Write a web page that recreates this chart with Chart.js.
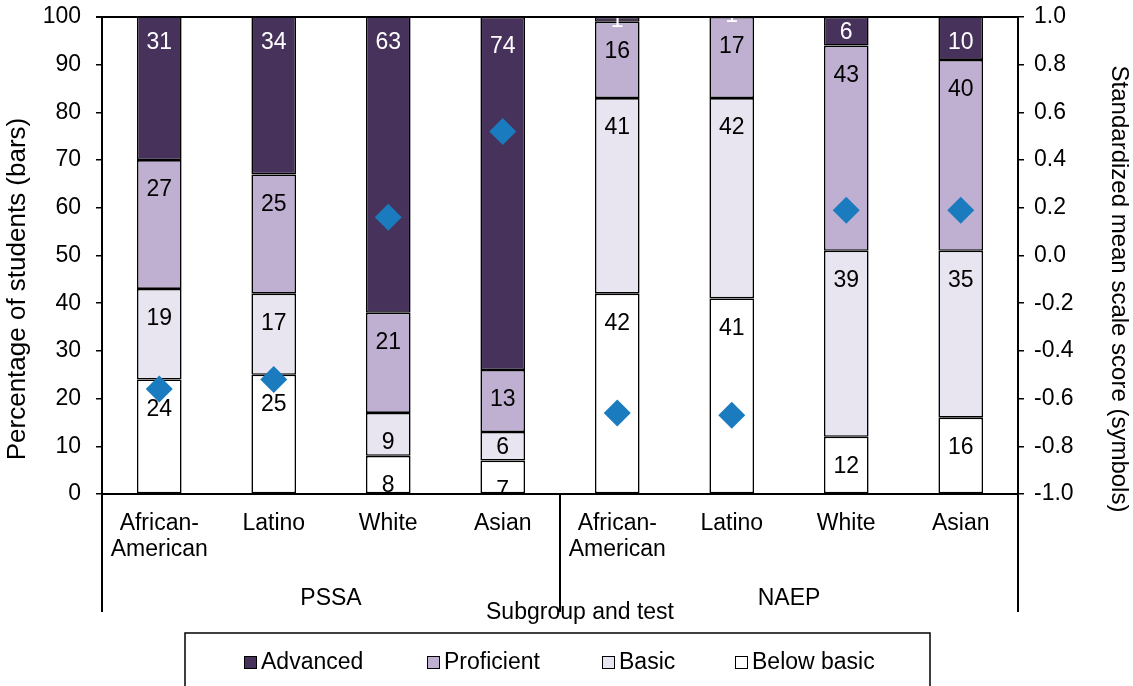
<!DOCTYPE html>
<html>
<head>
<meta charset="utf-8">
<script src="https://cdn.jsdelivr.net/npm/chart.js@4.4.1/dist/chart.umd.min.js"></script>
<style>
  html, body { margin: 0; padding: 0; background: #fff; }
  #wrap { width: 1133px; height: 686px; position: relative; }
</style>
</head>
<body>
<div id="wrap"><canvas id="chart" width="1133" height="686"></canvas></div>
<script>
// ── Dados
const tests = ['PSSA', 'NAEP'];
const subgroups = [['African-', 'American'], 'Latino', 'White', 'Asian'];

const belowBasic = [24, 25, 8, 7, 42, 41, 12, 16];
const basic      = [19, 17, 9, 6, 41, 42, 39, 35];
const proficient = [27, 25, 21, 13, 16, 17, 43, 40];
const advanced   = [31, 34, 63, 74, 1, 1, 6, 10];
const meanScore  = [-0.56, -0.52, 0.16, 0.52, -0.66, -0.67, 0.19, 0.19];

const pctTicks   = { min: 0, max: 100, step: 10 };
const scoreTicks = { min: -1, max: 1, step: 0.2 };

// ── Estilo
const FONT = 'Liberation Sans, Arial, sans-serif';
const FS = 23;
const COR = { adv: '#47325c', prof: '#bfb0d2', basic: '#e8e5f0', below: '#ffffff', diamond: '#1a7bbf' };

const categories = tests.flatMap(() => subgroups);

Chart.defaults.font.family = FONT;
Chart.defaults.font.size = FS;
Chart.defaults.color = '#000';

const barDs = (label, data, color, txt) => ({
  type: 'bar', label, data, backgroundColor: color, borderColor: '#000',
  borderWidth: 1.6, borderSkipped: false, barPercentage: 0.39, categoryPercentage: 1,
  yAxisID: 'y', stack: 'nivel', labelColor: txt
});

// ── Rótulos dentro das barras, eixo agrupado, títulos e legenda
const extras = {
  id: 'extras',
  afterDatasetsDraw(chart) {
    const ctx = chart.ctx, a = chart.chartArea;
    ctx.save();
    ctx.beginPath();
    ctx.rect(a.left, a.top, a.right - a.left, a.bottom - a.top);
    ctx.clip();
    ctx.font = FS + 'px ' + FONT;
    ctx.textAlign = 'center';
    ctx.textBaseline = 'middle';
    chart.data.datasets.forEach((ds, di) => {
      if (ds.type !== 'bar') return;
      chart.getDatasetMeta(di).data.forEach((el, i) => {
        const p = el.getProps(['x', 'y', 'base'], true);
        const top = Math.min(p.y, p.base), h = Math.abs(p.base - p.y);
        const y = h < 32 ? top + h / 2 : top + 29;
        ctx.fillStyle = ds.labelColor;
        ctx.fillText(String(ds.data[i]), p.x, y + 1);
      });
    });
    ctx.restore();
  },
  afterDraw(chart) {
    const ctx = chart.ctx, a = chart.chartArea;
    ctx.save();
    ctx.strokeStyle = '#000';
    ctx.fillStyle = '#000';

    // borda superior da área
    ctx.lineWidth = 2;
    ctx.beginPath();
    ctx.moveTo(a.left - 6, a.top); ctx.lineTo(a.right, a.top);
    ctx.stroke();

    // separadores dos testes
    const xs = chart.scales.x;
    const perGroup = subgroups.length;
    const edges = [];
    for (let g = 0; g <= tests.length; g++) {
      const idx = g * perGroup;
      const px = idx >= categories.length
        ? a.right
        : (idx === 0 ? a.left : (xs.getPixelForValue(idx - 1) + xs.getPixelForValue(idx)) / 2);
      edges.push(px);
      ctx.beginPath();
      ctx.moveTo(px, a.bottom); ctx.lineTo(px, a.bottom + 118);
      ctx.stroke();
    }

    ctx.font = FS + 'px ' + FONT;
    ctx.textAlign = 'center';
    ctx.textBaseline = 'middle';
    tests.forEach((t, g) => ctx.fillText(t, (edges[g] + edges[g + 1]) / 2, a.bottom + 105));
    ctx.fillText('Subgroup and test', 580, a.bottom + 119);

    // títulos dos eixos verticais
    const midY = 289;
    ctx.save();
    ctx.font = '26px ' + FONT;
    ctx.translate(18, midY); ctx.rotate(-Math.PI / 2);
    ctx.fillText('Percentage of students (bars)', 0, 0);
    ctx.restore();
    ctx.save();
    ctx.font = '24px ' + FONT;
    ctx.translate(1119, midY); ctx.rotate(Math.PI / 2);
    ctx.fillText('Standardized mean scale score (symbols)', 0, 0);
    ctx.restore();

    // legenda
    ctx.lineWidth = 1.5;
    ctx.strokeRect(185, 633, 745, 70);
    const items = [
      ['Advanced', COR.adv, 244], ['Proficient', COR.prof, 427],
      ['Basic', COR.basic, 602], ['Below basic', COR.below, 735]
    ];
    ctx.textAlign = 'left';
    items.forEach(([txt, cor, x]) => {
      ctx.fillStyle = cor;
      ctx.fillRect(x, 656, 13, 13);
      ctx.lineWidth = 1;
      ctx.strokeRect(x + 0.5, 656.5, 12, 12);
      ctx.fillStyle = '#000';
      ctx.fillText(txt, x + 17, 663);
    });
    ctx.restore();
  }
};

const axisGrid = { drawOnChartArea: false, color: '#000', lineWidth: 1.5, tickLength: 6 };
// largura fixa dos eixos verticais, sem a folga automática do primeiro/último rótulo
const fixY = w => s => { s.width = w; s.paddingTop = 0; s.paddingBottom = 0; };

new Chart(document.getElementById('chart'), {
  data: {
    labels: categories,
    datasets: [
      barDs('Below basic', belowBasic, COR.below, '#000'),
      barDs('Basic', basic, COR.basic, '#000'),
      barDs('Proficient', proficient, COR.prof, '#000'),
      barDs('Advanced', advanced, COR.adv, '#fff'),
      {
        type: 'line', label: 'Mean score', data: meanScore, yAxisID: 'y1', order: -1,
        showLine: false, pointStyle: 'rectRot', pointRadius: 13.5, pointHoverRadius: 13.5,
        backgroundColor: COR.diamond, borderColor: COR.diamond, borderWidth: 0
      }
    ]
  },
  options: {
    responsive: false,
    animation: false,
    layout: { padding: { top: 17, left: 0, right: 0, bottom: 0 } },
    plugins: { legend: { display: false }, tooltip: { enabled: false } },
    scales: {
      x: {
        stacked: true,
        grid: { display: false, drawTicks: false },
        border: { display: true, color: '#000', width: 2 },
        ticks: { padding: 16, maxRotation: 0, autoSkip: false, color: '#000', font: { size: FS, lineHeight: 1.15 } },
        afterFit: s => { s.height = 192; s.paddingLeft = 0; s.paddingRight = 0; }
      },
      y: {
        stacked: true, position: 'left',
        min: pctTicks.min, max: pctTicks.max,
        ticks: { stepSize: pctTicks.step, padding: 15, color: '#000' },
        grid: axisGrid,
        border: { display: true, color: '#000', width: 2 },
        afterFit: fixY(102)
      },
      y1: {
        position: 'right',
        min: scoreTicks.min, max: scoreTicks.max,
        ticks: { stepSize: scoreTicks.step, padding: 10, color: '#000',
                 callback: v => (Math.round(v * 10) / 10).toFixed(1) },
        grid: axisGrid,
        border: { display: true, color: '#000', width: 2 },
        afterFit: fixY(115)
      }
    }
  },
  plugins: [extras]
});
</script>
</body>
</html>
